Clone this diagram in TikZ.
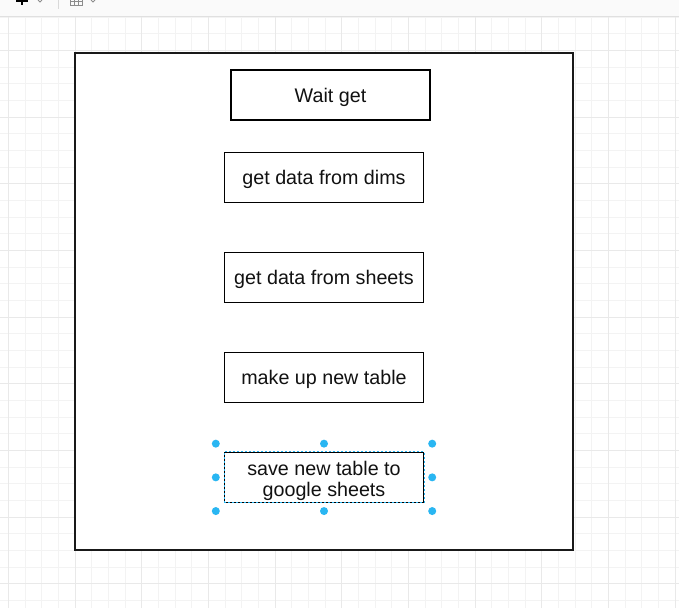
\documentclass[tikz,border=0pt]{standalone}
\usepackage{fontspec}
\setmainfont{Liberation Sans}
\usepackage{tikz}
\usetikzlibrary{ calc, positioning }
\definecolor{gridminor}{HTML}{F3F3F3}
\definecolor{gridmajor}{HTML}{E9E9E9}
\definecolor{selblue}{HTML}{29B6F2}
\definecolor{inktext}{HTML}{111111}
\tikzset{
x=1pt, y=-1pt, % pixel units, y downwards
node distance=48.7pt, % gap between the steps
every node/.style={inner sep=1pt},
stepbox/.style={draw=black, line width=1.3pt, fill=white, minimum width=199pt,
  minimum height=50pt, text=inktext, align=center, text height=14pt, text depth=0pt,
  font=\fontsize{19.7}{23}\selectfont},
container/.style={draw=black!90, line width=1.8pt, fill=white, minimum width=498pt,
  minimum height=497pt},
handle/.style={fill=selblue},
}

\begin{document}
\begin{tikzpicture}
  \useasboundingbox (0,0) rectangle (679,608);
  \fill[white] (0,0) rectangle (679,608);
  % background grid
  \foreach \i in {0,...,40}
    \draw[gridminor, line width=0.8pt] ({8.33+\i*16.667},16) -- ({8.33+\i*16.667},608);
  \foreach \i in {1,...,36}
    \draw[gridminor, line width=0.8pt] (0,{0.33+\i*16.667}) -- (679,{0.33+\i*16.667});
  \foreach \i in {0,...,10}
    \draw[gridmajor, line width=1pt] ({8.33+\i*66.67},16) -- ({8.33+\i*66.67},608);
  \foreach \i in {1,...,9}
    \draw[gridmajor, line width=1pt] (0,{-16.33+\i*66.67}) -- (679,{-16.33+\i*66.67});
  % toolbar
  \fill[black!2] (0,0) rectangle (679,16);
  \draw[black!12, line width=1pt] (0,16) -- (679,16);
  \draw[black, line width=2.2pt] (22,-4) -- (22,5) (16,0.5) -- (28,0.5);
  \draw[black!45, line width=1pt] (38,0) -- (40,2) -- (42,0);
  \draw[black!15, line width=1pt] (58,0) -- (58,9);
  \draw[black!45, line width=0.8pt] (70,-2) rectangle (82,5) (70,1.5) -- (82,1.5)
    (74,-2) -- (74,5) (78,-2) -- (78,5);
  \draw[black!45, line width=1pt] (91,0) -- (93,2) -- (95,0);

  \node[container] (outer) at (324,301.5) {};
  \node[stepbox] (wait) at (330.5,95) {Wait get};
  \node[stepbox] (dims) at (324,177.5) {get data from dims};
  \node[stepbox, below=of dims] (sheets) {get data from sheets};
  \node[stepbox, below=of sheets] (table) {make up new table};
  \node[stepbox, below=of table, line width=1pt, text height=39pt,
    font=\fontsize{19.7}{21.5}\selectfont] (save) {save new table to\\google sheets};

  % selection of the last step
  \draw[selblue, dash pattern=on 2pt off 2pt, line width=1pt] (save.south west) rectangle (save.north east);
  \node[minimum width=216pt, minimum height=67pt, inner sep=0pt] (sel) at (save) {};
  \foreach \a in {north west, north, north east, west, east, south west, south, south east}
    \fill[handle] (sel.\a) circle (4pt);
\end{tikzpicture}
\end{document}
